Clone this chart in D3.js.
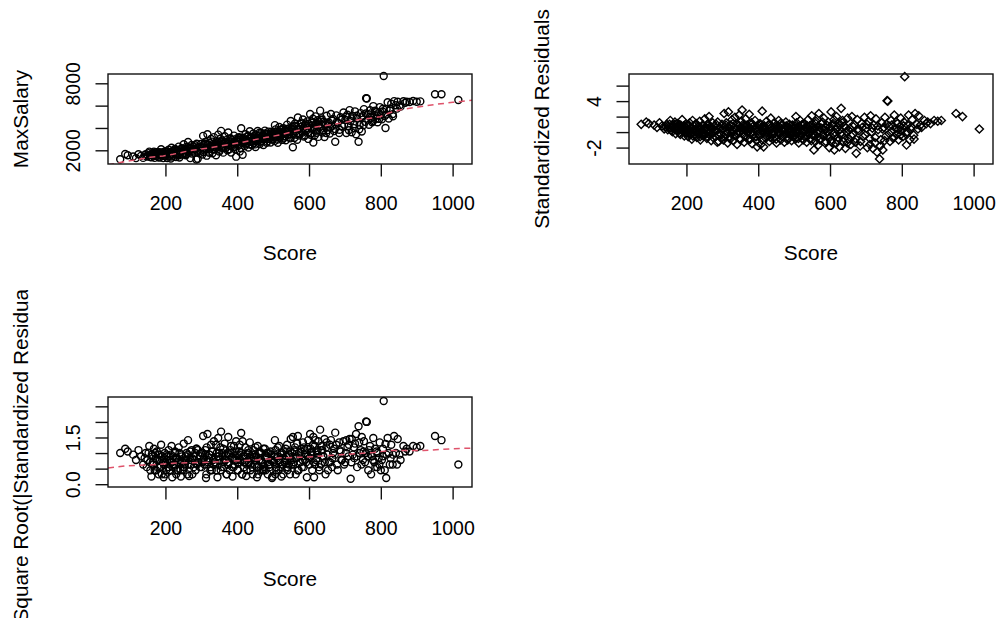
<!DOCTYPE html>
<html>
<head>
<meta charset="utf-8">
<script src="https://cdn.jsdelivr.net/npm/d3@7"></script>
<style>
  body { margin: 0; background: #fff; }
  svg text { font-family: "Liberation Sans", Arial, sans-serif; fill: #000; }
</style>
</head>
<body>
<div id="chart"></div>
<script>
// Score of each observation
const score = [
  74, 88, 95, 110, 118, 125, 132, 138, 145, 150,
  155, 158, 162, 165, 168, 170, 173, 176, 178, 180,
  183, 185, 188, 190, 192, 194, 196, 198, 199, 200,
  203, 205, 207, 209, 211, 213, 215, 217, 219, 221,
  223, 225, 227, 229, 231, 233, 235, 237, 239, 241,
  243, 245, 247, 249, 251, 253, 255, 257, 259, 261,
  263, 265, 267, 269, 271, 273, 275, 278, 281, 284,
  287, 290, 293, 296, 299, 286, 301, 303, 305, 307,
  309, 311, 313, 315, 317, 319, 321, 323, 325, 327,
  329, 331, 333, 335, 337, 339, 341, 343, 345, 347,
  349, 351, 353, 355, 357, 359, 361, 363, 365, 367,
  369, 371, 373, 375, 377, 379, 381, 383, 385, 387,
  389, 391, 393, 395, 397, 399, 401, 403, 405, 407,
  409, 411, 413, 415, 417, 419, 421, 423, 425, 427,
  429, 431, 433, 435, 437, 439, 441, 443, 445, 447,
  449, 451, 453, 455, 457, 459, 461, 463, 465, 467,
  469, 471, 473, 475, 477, 479, 481, 483, 485, 487,
  489, 491, 493, 495, 497, 499, 505, 502, 504, 507,
  509, 511, 513, 515, 517, 519, 521, 523, 525, 527,
  529, 531, 533, 535, 537, 539, 541, 543, 545, 547,
  549, 551, 553, 555, 557, 559, 561, 563, 565, 567,
  569, 571, 574, 577, 580, 583, 586, 589, 592, 595,
  598, 601, 603, 605, 607, 609, 611, 612, 614, 616,
  618, 620, 622, 624, 626, 628, 631, 633, 635, 637,
  640, 643, 646, 649, 652, 655, 658, 661, 664, 667,
  670, 673, 676, 680, 684, 688, 692, 696, 701, 704,
  707, 710, 713, 716, 719, 722, 725, 728, 731, 734,
  738, 741, 744, 747, 750, 753, 756, 759, 761, 764,
  767, 770, 773, 776, 779, 782, 785, 788, 791, 794,
  797, 800, 803, 806, 808, 811, 813, 816, 819, 822,
  825, 829, 833, 837, 842, 847, 855, 863, 872, 880,
  890, 900, 910, 951, 969, 1016,
  142, 148, 153, 157, 161, 164, 167, 171, 174, 177,
  181, 184, 187, 191, 195, 197, 202, 206, 210, 214,
  218, 222, 226, 230, 234, 238, 242, 246, 250, 254,
  258, 262, 266, 270, 274, 279, 283, 288, 292, 297,
  302, 306, 310, 314, 318, 322, 326, 330, 334, 338,
  342, 346, 350, 354, 358, 362, 366, 370, 374, 378,
  382, 386, 390, 394, 398, 402, 406, 410, 414, 418,
  422, 426, 430, 434, 438, 442, 446, 450, 454, 458,
  462, 466, 470, 474, 478, 482, 486, 490, 494, 498,
  501, 503, 506, 508, 512, 516, 520, 524, 528, 532,
  536, 540, 544, 548, 552, 556, 560, 564, 568, 572,
  576, 579, 582, 585, 588, 591, 594, 597, 600, 604,
  608, 613, 617, 621, 625, 629, 634, 639, 644, 648,
  653, 659, 665, 672, 678, 685, 690, 698, 703, 711,
  718, 726, 733, 740, 746, 752, 758, 765, 772, 778,
  784, 790, 796, 805, 815, 827, 834, 845, 852, 868
];

const maxSalary = [
  1200, 1670, 1550, 1450, 1300, 1640, 1500, 1320, 1650, 1480,
  1880, 1400, 1700, 1550, 1880, 1320, 1680, 1840, 1540, 1790,
  1340, 1700, 2100, 1530, 1800, 1300, 1660, 1890, 1480, 1700,
  1890, 1300, 1670, 2050, 1540, 1830, 1260, 2230, 1650, 1960,
  1500, 1830, 2120, 1400, 1780, 1990, 1640, 2330, 1360, 1990,
  1800, 2190, 1630, 1970, 2540, 1740, 2120, 1560, 2330, 1950,
  2740, 1790, 2240, 1300, 2130, 2470, 1950, 2330, 1770, 2100,
  2580, 1250, 2290, 1960, 2560, 1180, 2250, 1630, 3290, 2480,
  1970, 2740, 2180, 1520, 3440, 2440, 1880, 2650, 2130, 3010,
  2340, 1730, 2560, 3180, 2060, 2500, 1560, 2800, 2340, 3400,
  1970, 2650, 3030, 3740, 2230, 2780, 1790, 2580, 3260, 2180,
  2910, 2530, 2010, 3600, 2750, 2420, 3090, 1800, 2900, 2570,
  2250, 3310, 2800, 2080, 1430, 3070, 2740, 2400, 3170, 1900,
  2960, 3970, 2650, 1600, 3130, 2910, 2380, 3440, 2790, 2610,
  3240, 2250, 3070, 3710, 2760, 3200, 2470, 2960, 3500, 2650,
  3150, 2290, 3360, 3000, 3730, 2880, 3320, 2570, 3150, 3550,
  2850, 3340, 2480, 3260, 3760, 3040, 3490, 2780, 3220, 3670,
  3010, 3400, 2700, 3660, 3250, 2970, 4250, 3500, 2840, 3870,
  3230, 3670, 2680, 3460, 4080, 3130, 3820, 3400, 2930, 3620,
  3970, 3120, 3780, 2900, 3680, 4300, 3390, 3950, 3140, 3650,
  4630, 3440, 4110, 2270, 3900, 3100, 4400, 3700, 4090, 2950,
  4940, 3900, 3440, 4370, 3720, 4760, 3230, 4220, 3720, 4590,
  3020, 4190, 5250, 3530, 4460, 3950, 4820, 2700, 4070, 3350,
  5040, 4380, 3770, 4690, 3200, 4270, 5550, 3940, 4860, 3600,
  4560, 3190, 4260, 5090, 3810, 4490, 3500, 5250, 4150, 4800,
  3720, 2770, 5130, 4480, 3550, 4960, 4170, 5390, 4740, 3550,
  5190, 4170, 5600, 4620, 3620, 5080, 3990, 5490, 3440, 4840,
  2770, 4260, 5330, 3680, 5070, 5690, 4550, 6660, 6640, 5240,
  4290, 5590, 4920, 4510, 5960, 5170, 4790, 5460, 4510, 5340,
  5870, 5130, 4770, 5720, 8655, 5070, 4000, 5700, 6300, 4850,
  5560, 6170, 5240, 6400, 6030, 6350, 5910, 6390, 6350, 6330,
  6420, 6350, 6380, 7016, 7016, 6505,
  1570, 1450, 1750, 1570, 1370, 1700, 1550, 1800, 1490, 1660,
  1410, 1820, 1580, 1720, 1500, 1790, 1600, 1870, 1460, 1820,
  1450, 1800, 2080, 1690, 1960, 1560, 1880, 2140, 1770, 2030,
  1660, 2280, 1940, 2200, 1710, 2130, 2450, 1890, 2280, 1770,
  2350, 1840, 2590, 2130, 2490, 1780, 2380, 2780, 2100, 2540,
  2220, 2720, 1880, 2480, 2880, 2200, 2740, 2420, 2690, 2090,
  3010, 2420, 2730, 2330, 2910, 2560, 3110, 2200, 2760, 2990,
  2530, 2900, 3300, 2520, 3080, 2770, 3270, 2530, 3130, 2960,
  3570, 2770, 3180, 3020, 3520, 2680, 3440, 3060, 3510, 3250,
  3030, 3660, 3250, 3460, 2960, 3670, 3240, 3880, 3480, 3260,
  3900, 3420, 3770, 3070, 3920, 3470, 4200, 3400, 3880, 3330,
  4080, 4480, 3590, 4030, 3350, 4400, 3990, 3610, 4340, 3390,
  4570, 3820, 4290, 3570, 4550, 4030, 4720, 3790, 4450, 3550,
  4340, 4030, 4670, 3910, 4570, 3840, 4730, 4300, 5000, 3800,
  4860, 4330, 5090, 3880, 4950, 4260, 5290, 4750, 5310, 4620,
  5540, 5130, 4810, 5480, 5200, 5720, 5050, 5730, 6020, 6250
];

const stdResid = [
  1.0, 1.3, 1.1, 0.9, 0.6, 1.2, 0.8, 0.4, 1.0, 0.6,
  1.5, 0.2, 0.9, 0.5, 1.3, -0.2, 0.7, 1.1, 0.3, 0.9,
  -0.3, 0.6, 1.6, 0.1, 0.8, -0.5, 0.4, 1.0, -0.1, 0.5,
  0.9, -0.6, 0.3, 1.2, -0.2, 0.6, -0.9, 1.5, 0.05, 0.8,
  -0.4, 0.4, 1.1, -0.7, 0.2, 0.7, -0.2, 1.4, -1.0, 0.5,
  -0.06, 0.9, -0.5, 0.3, 1.7, -0.3, 0.6, -0.8, 1.0, 0.1,
  2.0, -0.4, 0.7, -1.1, 0.4, 1.2, -0.1, 0.8, -0.6, 0.2,
  1.3, -1.2, 0.5, -0.3, 1.0, -1.3, 0.3, -1.0, 2.4, 0.7,
  -0.4, 1.2, 0.04, -1.4, 2.6, 0.5, -0.7, 0.9, -0.2, 1.6,
  0.2, -1.1, 0.6, 1.9, -0.5, 0.4, -1.6, 1.0, -0.05, 2.2,
  -0.8, 0.6, 1.4, 2.85, -0.3, 0.8, -1.3, 0.3, 1.7, -0.6,
  0.9, 0.1, -1.0, 2.3, 0.5, -0.2, 1.2, -1.5, 0.7, 0.06,
  -0.7, 1.5, 0.4, -1.1, -1.9, 0.9, 0.2, -0.5, 1.1, -1.6,
  0.6, 2.7, -0.1, -1.9, 0.8, 0.3, -0.8, 1.4, -0.07, -0.4,
  0.9, -1.2, 0.5, 1.8, -0.2, 0.7, -0.9, 0.1, 1.2, -0.6,
  0.4, -1.4, 0.8, 0.05, 1.5, -0.3, 0.6, -1.0, 0.2, 1.0,
  -0.5, 0.5, -1.3, 0.3, 1.3, -0.2, 0.7, -0.8, 0.1, 1.0,
  -0.4, 0.4, -1.1, 0.9, -0.04, -0.6, 2.0, 0.5, -0.9, 1.2,
  -0.2, 0.7, -1.4, 0.2, 1.5, -0.5, 0.9, 0.06, -1.0, 0.4,
  1.1, -0.7, 0.6, -1.3, 0.3, 1.6, -0.3, 0.8, -0.9, 0.1,
  2.1, -0.4, 1.0, -2.3, 0.5, -1.2, 1.4, -0.1, 0.7, -1.7,
  2.4, 0.2, -0.8, 1.1, -0.3, 1.8, -1.4, 0.6, -0.5, 1.3,
  -2.0, 0.4, 2.6, -1.0, 0.9, -0.2, 1.6, -2.3, -0.05, -1.5,
  2.0, 0.6, -0.7, 1.2, -1.9, 0.3, 3.07, -0.4, 1.5, -1.2,
  0.8, -2.1, 0.1, 1.8, -0.9, 0.5, -1.6, 2.0, -0.3, 1.0,
  -1.3, -2.74, 1.6, 0.2, -1.8, 1.1, -0.6, 1.9, 0.5, -2.0,
  1.4, -0.8, 2.1, 0.03, -2.1, 0.9, -1.4, 1.7, -2.6, 0.3,
  -3.47, -1.0, 1.2, -2.3, 0.6, 1.9, -0.5, 4.06, 4.0, 0.8,
  -1.2, 1.5, 0.1, -0.8, 2.2, 0.5, -0.3, 1.1, -1.0, 0.7,
  1.8, 0.2, -0.6, 1.3, 7.15, -0.2, -1.67, 0.9, 2.2, -1.0,
  0.4, 1.6, -0.4, 2.4, 1.0, 2.1, 0.6, 1.5, 1.3, 1.1,
  1.5, 1.4, 1.5, 2.4, 2.0, 0.4,
  0.7, 0.3, 1.0, 0.5, 0.06, 0.8, 0.4, 1.0, 0.2, 0.6,
  -0.1, 0.9, 0.3, 0.6, -0.05, 0.7, 0.2, 0.8, -0.3, 0.5,
  -0.5, 0.3, 1.0, -0.1, 0.5, -0.6, 0.2, 0.8, -0.2, 0.4,
  -0.6, 0.9, 0.07, 0.6, -0.7, 0.3, 1.0, -0.4, 0.5, -0.8,
  0.5, -0.6, 0.9, -0.1, 0.6, -0.9, 0.3, 1.1, -0.4, 0.5,
  -0.2, 0.8, -1.0, 0.2, 1.0, -0.5, 0.6, -0.1, 0.4, -0.9,
  1.0, -0.3, 0.3, -0.6, 0.6, -0.2, 0.9, -1.0, 0.1, 0.5,
  -0.5, 0.2, 1.0, -0.7, 0.4, -0.3, 0.7, -0.9, 0.3, -0.1,
  1.1, -0.6, 0.2, -0.2, 0.8, -1.0, 0.5, -0.3, 0.6, -0.06,
  -0.5, 0.8, -0.1, 0.3, -0.8, 0.6, -0.3, 1.0, 0.1, -0.5,
  0.8, -0.2, 0.4, -1.1, 0.6, -0.4, 1.1, -0.7, 0.2, -1.0,
  0.5, 1.3, -0.6, 0.3, -1.2, 0.9, 0.05, -0.8, 0.7, -1.3,
  1.1, -0.5, 0.4, -1.1, 0.9, -0.2, 1.2, -0.8, 0.5, -1.4,
  0.2, -0.5, 0.7, -0.9, 0.4, -1.2, 0.6, -0.4, 1.0, -1.6,
  0.5, -0.7, 0.8, -1.8, 0.4, -1.1, 1.0, -0.2, 0.9, -0.6,
  1.3, 0.3, -0.4, 0.8, 0.04, 0.7, -0.9, 0.4, 0.9, 1.1
];

// the y of the third plot is sqrt(|standardized residual|)
const rootResid = stdResid.map(r => Math.sqrt(Math.abs(r)));

// red dashed smooth on the salary plot
const fitScore = [40, 70, 101, 157, 194, 221, 263, 296, 332, 370, 408, 444, 482, 519,
  555, 593, 639, 686, 733, 770, 798, 825, 861, 909, 955, 1001, 1054];
const fitSalary = [700, 880, 1069, 1373, 1489, 1642, 1937, 2090, 2269, 2475, 2681, 2922, 3164, 3370,
  3666, 3970, 4177, 4418, 4714, 4866, 5010, 5368, 5672, 5905, 6120, 6299, 6480];

// red dashed smooth on the scale-location plot
const rootFitScore = [40, 92, 157, 231, 305, 380, 454, 528, 593, 686, 779, 825, 918, 1002, 1054];
const rootFit = [0.52, 0.59, 0.62, 0.68, 0.70, 0.74, 0.78, 0.85, 0.87, 0.945, 1.02, 1.08, 1.08, 1.14, 1.16];

const scoreTicks = [200, 400, 600, 800, 1000];
const scoreTickLabels = ["200", "400", "600", "800", "1000"];
const salaryTicks = [2000, 4000, 6000, 8000];
const salaryTickLabels = ["2000", "", "", "8000"];
const residTicks = [-2, 0, 2, 4, 6];
const residTickLabels = ["-2", "", "", "4", ""];
const rootTicks = [0, 0.5, 1, 1.5, 2, 2.5];
const rootTickLabels = ["0.0", "", "", "1.5", "", ""];

const W = 996, H = 618;
const TICK_FONT = 19.5;
const TITLE_FONT = 20.8;
const INK = "#111";
const RED = "#DF536B";

const svg = d3.select("#chart").append("svg")
  .attr("width", W)
  .attr("height", H)
  .style("display", "block");

svg.append("rect").attr("width", W).attr("height", H).attr("fill", "#fff");

const defs = svg.append("defs");

function drawPanel(p) {

  const x = d3.scaleLinear().domain([40, 1054]).range([p.left, p.right]);
  const y = d3.scaleLinear().domain(p.yDomain).range([p.bottom, p.top]);
  const g = svg.append("g");

  defs.append("clipPath").attr("id", "clip-" + p.id)
    .append("rect")
    .attr("x", p.left).attr("y", p.top)
    .attr("width", p.right - p.left).attr("height", p.bottom - p.top);

  // points
  const pts = d3.range(score.length).map(i => ({ x: score[i], y: p.values[i] }));
  if (p.shape === "diamond") {
    const s = 4.1;
    g.selectAll("path.pt").data(pts).enter()
      .append("path")
      .attr("class", "pt")
      .attr("d", `M0,${-s}L${s},0L0,${s}L${-s},0Z`)
      .attr("transform", d => `translate(${x(d.x)},${y(d.y)})`)
      .attr("fill", "none")
      .attr("stroke", "#000")
      .attr("stroke-width", 1.4);
  } else {
    g.selectAll("circle.pt").data(pts).enter()
      .append("circle")
      .attr("class", "pt")
      .attr("cx", d => x(d.x))
      .attr("cy", d => y(d.y))
      .attr("r", 3.5)
      .attr("fill", "none")
      .attr("stroke", "#000")
      .attr("stroke-width", 1.4);
  }

  // smooth line
  if (p.lineX) {
    const line = d3.line().x(d => x(d[0])).y(d => y(d[1]));
    g.append("path")
      .datum(d3.zip(p.lineX, p.lineY))
      .attr("d", line)
      .attr("fill", "none")
      .attr("stroke", RED)
      .attr("stroke-width", 1.5)
      .attr("stroke-dasharray", "6,4.5")
      .attr("clip-path", `url(#clip-${p.id})`);
  }

  // box
  g.append("rect")
    .attr("x", p.left).attr("y", p.top)
    .attr("width", p.right - p.left).attr("height", p.bottom - p.top)
    .attr("fill", "none")
    .attr("stroke", INK)
    .attr("stroke-width", 1.4);

  // x axis
  const xAxis = d3.axisBottom(x)
    .tickValues(scoreTicks)
    .tickFormat((d, i) => scoreTickLabels[i])
    .tickSize(12.5)
    .tickSizeOuter(0);
  const gx = g.append("g")
    .attr("transform", `translate(0,${p.bottom})`)
    .call(xAxis)
    .attr("font-size", TICK_FONT)
    .attr("font-family", null);
  gx.select(".domain").remove();
  gx.selectAll(".tick line").attr("stroke", INK).attr("stroke-width", 1.4);
  gx.selectAll(".tick text").attr("y", p.xTickBase).attr("dy", 0).attr("fill", "#000");

  // y axis
  const yAxis = d3.axisLeft(y)
    .tickValues(p.yTicks)
    .tickFormat((d, i) => p.yTickLabels[i])
    .tickSize(12.5)
    .tickSizeOuter(0);
  const gy = g.append("g")
    .attr("transform", `translate(${p.left},0)`)
    .call(yAxis)
    .attr("font-size", TICK_FONT)
    .attr("font-family", null);
  gy.select(".domain").remove();
  gy.selectAll(".tick line").attr("stroke", INK).attr("stroke-width", 1.4);
  gy.selectAll(".tick text")
    .attr("transform", "rotate(-90)")
    .attr("x", 0)
    .attr("y", -28.5)
    .attr("dy", 0)
    .attr("text-anchor", "middle")
    .attr("fill", "#000");

  // axis titles
  g.append("text")
    .attr("x", (p.left + p.right) / 2)
    .attr("y", p.bottom + p.xTitleBase)
    .attr("text-anchor", "middle")
    .attr("font-size", TITLE_FONT)
    .text("Score");

  const yt = g.append("text")
    .attr("transform", `translate(${p.left - 80},${(p.top + p.bottom) / 2}) rotate(-90)`)
    .attr("text-anchor", "middle")
    .attr("font-size", TITLE_FONT)
    .text(p.ylab);

  if (p.titleClip) {
    defs.append("clipPath").attr("id", "tclip-" + p.id)
      .append("rect")
      .attr("x", p.titleClip[0]).attr("y", p.titleClip[1])
      .attr("width", p.titleClip[2]).attr("height", p.titleClip[3]);
    g.append("g").attr("clip-path", `url(#tclip-${p.id})`).node().appendChild(yt.node());
  }
}

drawPanel({
  id: "salary", left: 108, right: 472, top: 74, bottom: 164,
  yDomain: [773, 8833], yTicks: salaryTicks, yTickLabels: salaryTickLabels,
  values: maxSalary, shape: "circle", lineX: fitScore, lineY: fitSalary,
  ylab: "MaxSalary", xTickBase: 46, xTitleBase: 96
});

drawPanel({
  id: "resid", left: 629, right: 993, top: 74, bottom: 164,
  yDomain: [-4.12, 7.5], yTicks: residTicks, yTickLabels: residTickLabels,
  values: stdResid, shape: "diamond",
  ylab: "Standardized Residuals", xTickBase: 46, xTitleBase: 96
});

drawPanel({
  id: "root", left: 108, right: 472, top: 397, bottom: 487,
  yDomain: [-0.09, 2.8], yTicks: rootTicks, yTickLabels: rootTickLabels,
  values: rootResid, shape: "circle", lineX: rootFitScore, lineY: rootFit,
  ylab: "Square Root(|Standardized Residuals|)", xTickBase: 47.5, xTitleBase: 99,
  titleClip: [0, 290, 498, 328]
});
</script>
</body>
</html>
